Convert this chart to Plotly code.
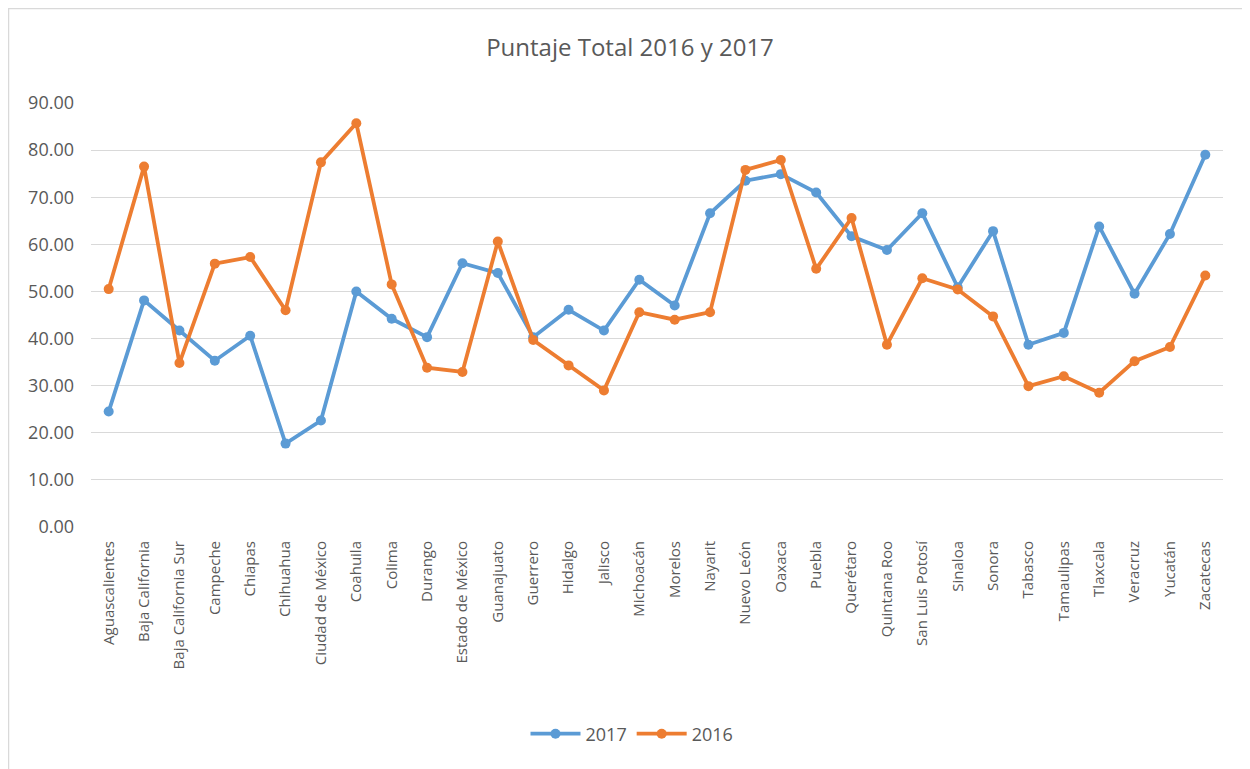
import plotly.graph_objects as go

estados = ["Aguascalientes", "Baja California", "Baja California Sur", "Campeche", "Chiapas",
           "Chihuahua", "Ciudad de México", "Coahuila", "Colima", "Durango", "Estado de México",
           "Guanajuato", "Guerrero", "Hidalgo", "Jalisco", "Michoacán", "Morelos", "Nayarit",
           "Nuevo León", "Oaxaca", "Puebla", "Querétaro", "Quintana Roo", "San Luis Potosí",
           "Sinaloa", "Sonora", "Tabasco", "Tamaulipas", "Tlaxcala", "Veracruz", "Yucatán",
           "Zacatecas"]

valores_2017 = [24.5, 48.1, 41.7, 35.3, 40.6, 17.7, 22.6, 50.0, 44.2, 40.3, 56.0,
                53.9, 40.3, 46.1, 41.7, 52.5, 47.0, 66.6, 73.5, 74.9, 71.0, 61.7,
                58.8, 66.6, 50.9, 62.8, 38.7, 41.2, 63.8, 49.5, 62.2, 79.0]

valores_2016 = [50.5, 76.5, 34.8, 55.9, 57.3, 46.0, 77.4, 85.7, 51.5, 33.8, 32.9,
                60.6, 39.7, 34.3, 29.0, 45.6, 44.0, 45.6, 75.8, 77.9, 54.8, 65.6,
                38.7, 52.8, 50.4, 44.7, 29.9, 32.0, 28.5, 35.2, 38.2, 53.4]

y_ticks = [0, 10, 20, 30, 40, 50, 60, 70, 80, 90]

FONT = "Open Sans"
GRAY = "#595959"

fig = go.Figure()
fig.add_trace(go.Scatter(x=estados, y=valores_2017, name="2017", mode="lines+markers",
                         line=dict(color="#5B9BD5", width=3.8),
                         marker=dict(color="#5B9BD5", size=10)))
fig.add_trace(go.Scatter(x=estados, y=valores_2016, name="2016", mode="lines+markers",
                         line=dict(color="#ED7D31", width=3.8),
                         marker=dict(color="#ED7D31", size=10)))

# page body has an 8px margin: figure coordinates = screen - 8
W, H = 1250, 769
L, R, T, B = 83, 35, 95, 250
pw, ph = W - L - R, H - T - B

# chart border at figure origin (left/top visible)
fig.add_shape(type="rect", xref="paper", yref="paper",
              x0=(0.5 - L) / pw, x1=(W + 20 - L) / pw,
              y0=(H - B - (H + 20)) / ph, y1=(H - B - 0.5) / ph,
              line=dict(color="#D9D9D9", width=1.5), layer="below")

fig.update_layout(
    width=W, height=H,
    margin=dict(l=L, r=R, t=T, b=B),
    paper_bgcolor="white", plot_bgcolor="white",
    font=dict(family=FONT, color=GRAY),
    title=dict(text="Puntaje Total 2016 y 2017", x=(630 - 8) / W, xanchor="center", xref="container",
               y=1 - 40 / H, yref="container", yanchor="middle",
               font=dict(size=24, color=GRAY, family=FONT)),
    showlegend=True,
    legend=dict(orientation="h", x=(632 - 8) / W, xanchor="center", xref="container",
                y=1 - 726 / H, yref="container", yanchor="middle",
                font=dict(size=18, color=GRAY), itemwidth=50),
    xaxis=dict(type="category", range=[-0.5, len(estados) - 0.5], tickangle=-90,
               showgrid=False, showline=False, zeroline=False, ticks="",
               tickfont=dict(size=15, color=GRAY, family=FONT), ticklabelstandoff=10),
    yaxis=dict(range=[0, 90], tickvals=y_ticks, tickformat=".2f",
               showgrid=True, gridcolor="#D9D9D9", gridwidth=1.3, zeroline=False,
               showline=False, ticks="",
               tickfont=dict(size=18, color=GRAY, family=FONT), ticklabelstandoff=16),
)

fig.write_html("out.html")
